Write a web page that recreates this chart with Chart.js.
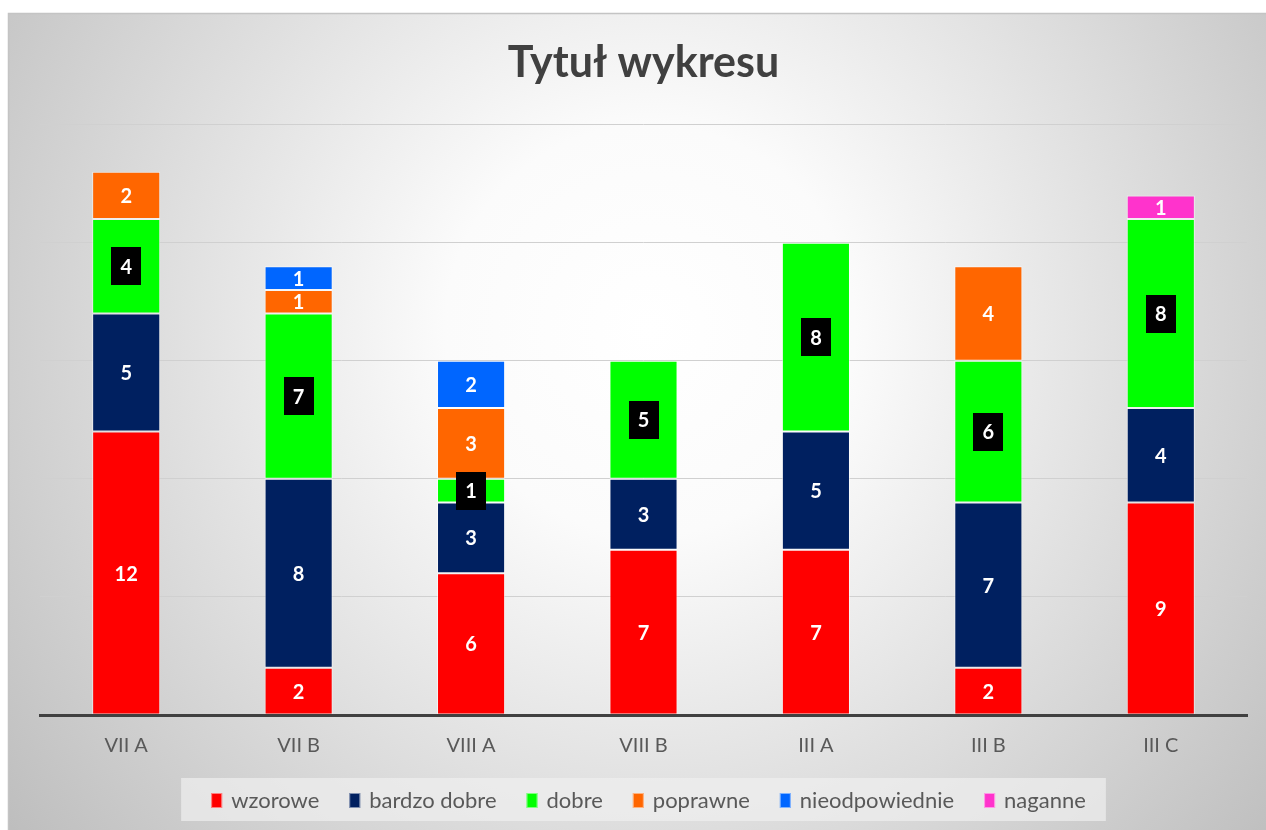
<!DOCTYPE html>
<html lang="pl">
<head>
    <meta charset="UTF-8">
    <title>Tytuł wykresu</title>
    <script src="https://cdn.jsdelivr.net/npm/chart.js"></script>
    <style>
        html, body { margin: 0; padding: 0; background: #fff; }
        #wrap { width: 1266px; height: 830px; position: relative; }
    </style>
</head>
<body>
<div id="wrap">
    <canvas id="chart"></canvas>
</div>
<script>
    // data
    const classes = ["VII A", "VII B", "VIII A", "VIII B", "III A", "III B", "III C"];
    const wzorowe = [12, 2, 6, 7, 7, 2, 9];
    const bardzoDobre = [5, 8, 3, 3, 5, 7, 4];
    const dobre = [4, 7, 1, 5, 8, 6, 8];
    const poprawne = [2, 1, 3, 0, 0, 4, 0];
    const nieodpowiednie = [0, 1, 2, 0, 0, 0, 0];
    const naganne = [0, 0, 0, 0, 0, 0, 1];

    const FONT = "Lato, 'Open Sans', sans-serif";

    function series(label, data, color, boxed) {
        return {
            label: label,
            data: data,
            backgroundColor: color,
            borderColor: "rgba(255,255,255,0.55)",
            borderWidth: 1,
            borderSkipped: false,
            boxedLabel: boxed,
            barPercentage: 0.395,
            categoryPercentage: 1
        };
    }

    // grey radial background + frame
    const backdrop = {
        id: "backdrop",
        beforeDraw(chart) {
            const c = chart.ctx;
            const w = chart.width, h = chart.height;
            c.save();
            c.fillStyle = "#ffffff";
            c.fillRect(0, 0, w, h);
            const g = c.createRadialGradient(650, 330, 0, 650, 330, 820);
            g.addColorStop(0, "#ffffff");
            g.addColorStop(0.25, "#fbfbfb");
            g.addColorStop(1, "#bdbdbd");
            c.fillStyle = g;
            c.fillRect(8, 13, w - 8, h - 13);
            c.strokeStyle = "#c4c4c4";
            c.lineWidth = 1.5;
            c.beginPath();
            c.moveTo(8.5, h);
            c.lineTo(8.5, 13.5);
            c.lineTo(w, 13.5);
            c.stroke();
            c.restore();
        }
    };

    // legend in a light panel under the axis (built from the datasets)
    const panelLegend = {
        id: "panelLegend",
        afterDraw(chart) {
            const c = chart.ctx;
            const a = chart.chartArea;
            const items = chart.data.datasets.map(ds => ({ text: ds.label, color: ds.backgroundColor }));
            c.save();
            c.font = "22px " + FONT;
            const box = 11, gapText = 9, gapItem = 30;
            let total = 0;
            items.forEach((it, i) => {
                it.w = box + gapText + c.measureText(it.text).width;
                total += it.w + (i ? gapItem : 0);
            });
            const mid = a.bottom + 85;
            let x = (a.left + a.right) / 2 + 5 - total / 2;
            c.fillStyle = "rgba(240,240,240,0.7)";
            c.fillRect(x - 30, mid - 22, total + 50, 43);
            c.textBaseline = "middle";
            c.textAlign = "left";
            items.forEach(it => {
                c.fillStyle = it.color;
                c.fillRect(x, mid - 7, box, 15);
                c.strokeStyle = "rgba(255,255,255,0.5)";
                c.lineWidth = 1;
                c.strokeRect(x + 0.5, mid - 6.5, box - 1, 14);
                c.fillStyle = "#595959";
                c.fillText(it.text, x + box + gapText, mid + 1);
                x += it.w + gapItem;
            });
            c.restore();
        }
    };

    // value labels in the middle of each segment
    const segLabels = {
        id: "segLabels",
        afterDatasetsDraw(chart) {
            const c = chart.ctx;
            c.save();
            c.font = "bold 20px " + FONT;
            c.textAlign = "center";
            c.textBaseline = "middle";
            chart.data.datasets.forEach((ds, i) => {
                const meta = chart.getDatasetMeta(i);
                meta.data.forEach((bar, j) => {
                    const v = ds.data[j];
                    if (!v) return;
                    const y = (bar.y + bar.base) / 2;
                    if (ds.boxedLabel) {
                        c.fillStyle = "#000000";
                        c.fillRect(Math.round(bar.x - 15), Math.round(y - 19), 30, 38);
                    }
                    c.fillStyle = "#ffffff";
                    c.fillText(String(v), bar.x, y + 1);
                });
            });
            c.restore();
        }
    };

    new Chart(document.getElementById("chart"), {
        type: "bar",
        data: {
            labels: classes,
            datasets: [
                series("wzorowe", wzorowe, "#ff0000", false),
                series("bardzo dobre", bardzoDobre, "#002060", false),
                series("dobre", dobre, "#00ff00", true),
                series("poprawne", poprawne, "#ff6600", false),
                series("nieodpowiednie", nieodpowiednie, "#0066ff", false),
                series("naganne", naganne, "#ff33cc", false)
            ]
        },
        options: {
            responsive: true,
            maintainAspectRatio: false,
            animation: false,
            layout: { padding: { left: 40, right: 19, top: 20, bottom: 53 } },
            plugins: {
                title: {
                    display: true,
                    text: "Tytuł wykresu",
                    color: "#404040",
                    font: { family: FONT, size: 43, weight: "bold" },
                    padding: { top: 17, bottom: 36 }
                },
                legend: { display: false },
                tooltip: { enabled: false }
            },
            scales: {
                x: {
                    stacked: true,
                    grid: { display: false, drawTicks: false },
                    border: { display: true, color: "#404040", width: 3, z: 1 },
                    ticks: { color: "#595959", font: { family: FONT, size: 20 }, padding: 19 }
                },
                y: {
                    stacked: true,
                    min: 0,
                    max: 25,
                    ticks: { display: false, stepSize: 5 },
                    grid: { color: "#d0d0d0", lineWidth: 1, drawTicks: false },
                    border: { display: false }
                }
            }
        },
        plugins: [backdrop, segLabels, panelLegend]
    });
</script>
</body>
</html>
